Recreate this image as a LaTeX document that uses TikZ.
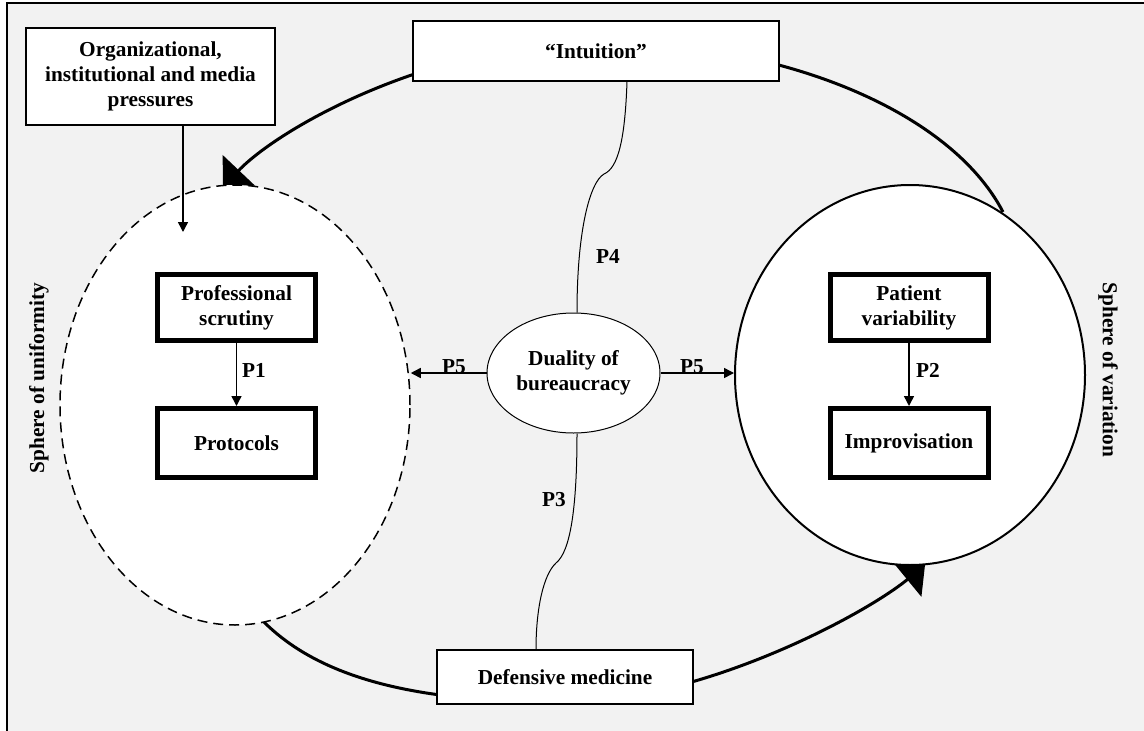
\documentclass[tikz,border=0pt]{standalone}
\usepackage{fontspec}
\setmainfont{Liberation Serif}
\usetikzlibrary{arrows.meta,shapes.geometric}
\definecolor{bgc}{HTML}{F2F2F2}
\begin{document}
\begin{tikzpicture}[x=1pt,y=-1pt,
  lbl/.style={font=\fontsize{21.3}{25}\selectfont\bfseries, align=center},
  thinbox/.style={draw, line width=1.5pt, fill=white, inner sep=0pt, lbl},
  thickbox/.style={draw, line width=5pt, fill=white, inner sep=0pt, lbl, minimum width=158pt},
  bigarc/.style={line width=3pt, -{Triangle[length=23pt,width=44pt]}},
  smallarr/.style={line width=1.5pt, -{Triangle[length=10pt,width=10pt]}},
  thincurve/.style={line width=1pt},
]
\useasboundingbox (0,0) rectangle (1144,731);
\fill[bgc] (7,3) rectangle (1144,731);
\draw[line width=2pt] (7,731) -- (7,3) -- (1144,3);

% big loop arcs
\coordinate (ta) at (1003,212);
\coordinate (tb) at (223,187);
\coordinate (ba) at (262,620);
\coordinate (bb) at (925,565);
\draw[bigarc] (ta) .. controls (950,110) and (780,42) .. (600,42) .. controls (430,42) and (278,129) .. (tb);
\draw[bigarc] (ba) .. controls (330,690) and (450,702) .. (565,702) .. controls (700,702) and (863,616) .. (bb);

% spheres
\node[draw, dash pattern=on 10pt off 6pt, line width=1.5pt, fill=white, ellipse, minimum width=350pt, minimum height=440pt, inner sep=0pt] (uni) at (235,405) {};
\node[draw, line width=2pt, fill=white, ellipse, minimum width=350pt, minimum height=380pt, inner sep=0pt] (var) at (910,375) {};

% outer boxes
\node[thinbox, minimum width=249pt, minimum height=97pt] (org) at (150.5,76.5) {Organizational,\\institutional and media\\pressures};
\node[thinbox, minimum width=366pt, minimum height=60pt] (intu) at (596,51) {“Intuition”};
\node[thinbox, minimum width=256pt, minimum height=54pt] (def) at (565,677) {Defensive medicine};

% inner boxes
\node[thickbox, minimum height=66pt] (prof) at (236.5,307.5) {Professional\\scrutiny};
\node[thickbox, minimum height=69pt] (prot) at (236.5,443) {Protocols};
\node[thickbox, minimum height=66pt] (pat) at (909,307.5) {Patient\\variability};
\node[thickbox, minimum height=69pt] (imp) at (909,443) {Improvisation};

\node[draw, line width=1pt, fill=white, ellipse, minimum width=173pt, minimum height=120pt, inner sep=0pt, lbl] (dual) at (573.5,373) {Duality of\\bureaucracy};

% connectors
\coordinate (orgend) at (183,232);
\draw[smallarr] ([xshift=32.5pt]org.south) -- (orgend);
\draw[smallarr] (prof.south) -- (prot.north);
\draw[smallarr] (pat.south) -- (imp.north);
\draw[smallarr] (dual.west) -- (dual.west -| uni.east);
\draw[smallarr] (dual.east) -- (dual.east -| var.west);
\draw[thincurve] ([xshift=31pt]intu.south) .. controls (625,140) and (618,168) .. (604,174) .. controls (590,182) and (577,230) .. ([xshift=3.5pt]dual.north);
\draw[thincurve] ([xshift=3.5pt]dual.south) .. controls (577,510) and (570,552) .. (556,563) .. controls (543,575) and (536,610) .. ([xshift=-29pt]def.north);

% labels
\node[lbl] (lp1) at (254,370) {P1};
\node[lbl] (lp2) at (928,370) {P2};
\node[lbl] (lp3) at (554,500) {P3};
\node[lbl] (lp4) at (608,256) {P4};
\node[lbl] (lp5a) at (454,367) {P5};
\node[lbl] (lp5b) at (692,367) {P5};
\node[lbl, rotate=90] (su) at (39,378) {Sphere of uniformity};
\node[lbl, rotate=-90] (sv) at (1108,370) {Sphere of variation};
\end{tikzpicture}
\end{document}
